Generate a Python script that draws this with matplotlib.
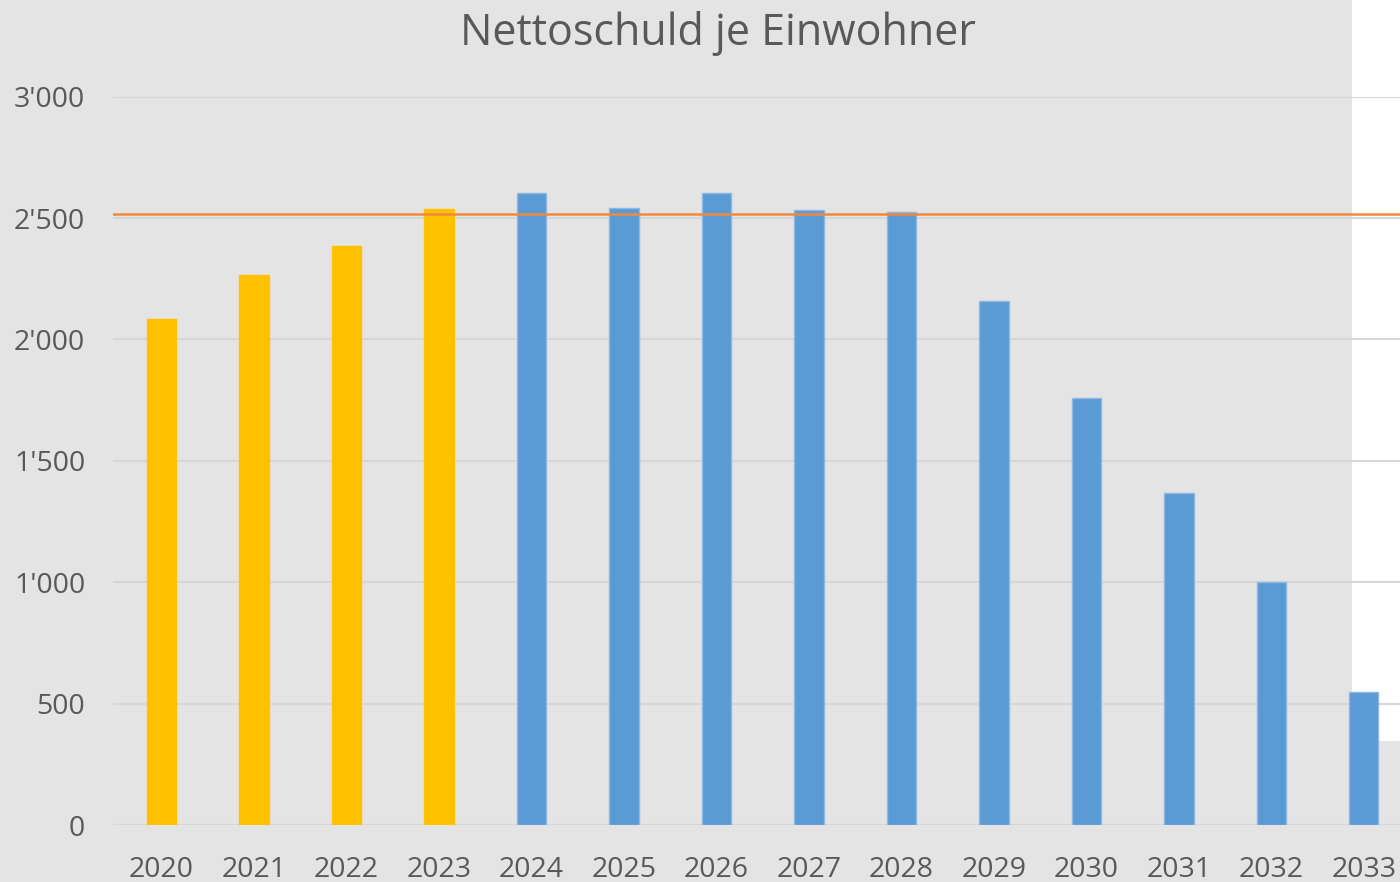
import numpy as np
import matplotlib.pyplot as plt
from matplotlib.patches import Rectangle

plt.rcParams['font.family'] = ['Open Sans', 'DejaVu Sans']

jahre = ['2020', '2021', '2022', '2023', '2024', '2025', '2026',
         '2027', '2028', '2029', '2030', '2031', '2032', '2033']
schuld = [2086, 2267, 2387, 2539, 2605, 2543, 2605,
          2535, 2523, 2160, 1757, 1366, 1000, 547]
ist_jahre = 4          # 2020-2023 = Rechnung, danach Plan
grenzwert = 2516       # orange Linie
yticks = [0, 500, 1000, 1500, 2000, 2500, 3000]
ytick_labels = ['0', '500', "1'000", "1'500", "2'000", "2'500", "3'000"]

grau = '#e4e4e4'
text_farbe = '#595959'

fig = plt.figure(figsize=(14, 8.82), dpi=100)
fig.patch.set_facecolor(grau)
# weisser Bereich rechts oben (Screenshot-Rand)
fig.patches.append(Rectangle((1352/1400, 1 - 741/882), 1 - 1352/1400, 741/882,
                             transform=fig.transFigure, facecolor='white',
                             edgecolor='none', zorder=-1))

ax = fig.add_axes([113/1400, 1 - 825/882, 1 - 113/1400, (825 - 96.7)/882])
ax.patch.set_visible(False)

x = np.arange(len(jahre))
farben = ['#FFC000'] * ist_jahre + ['#5B9BD5'] * (len(jahre) - ist_jahre)
kanten = ['#FFC000'] * ist_jahre + ['#8CB8E2'] * (len(jahre) - ist_jahre)
ax.bar(x, schuld, width=0.315, color=farben, edgecolor=kanten, linewidth=1, zorder=3)

ax.axhline(grenzwert, color='#F0893F', linewidth=1.8, zorder=4)

ax.set_xlim(-0.524, 13.39)
ax.set_ylim(0, 3000)
ax.set_yticks(yticks)
ax.set_yticklabels(ytick_labels)
ax.set_xticks(x)
ax.set_xticklabels(jahre)
ax.grid(axis='y', color='#d6d6d6', linewidth=1.5, zorder=1)
ax.set_axisbelow(True)
for s in ax.spines.values():
    s.set_visible(False)
ax.tick_params(axis='both', length=0, labelsize=20.5, colors=text_farbe)
ax.tick_params(axis='y', pad=20)
ax.tick_params(axis='x', pad=22)

fig.text(718/1400, 1 - 34/882, 'Nettoschuld je Einwohner', ha='center', va='center',
         fontsize=31, color=text_farbe)

fig.savefig('out.png', dpi=100, facecolor=fig.get_facecolor())
